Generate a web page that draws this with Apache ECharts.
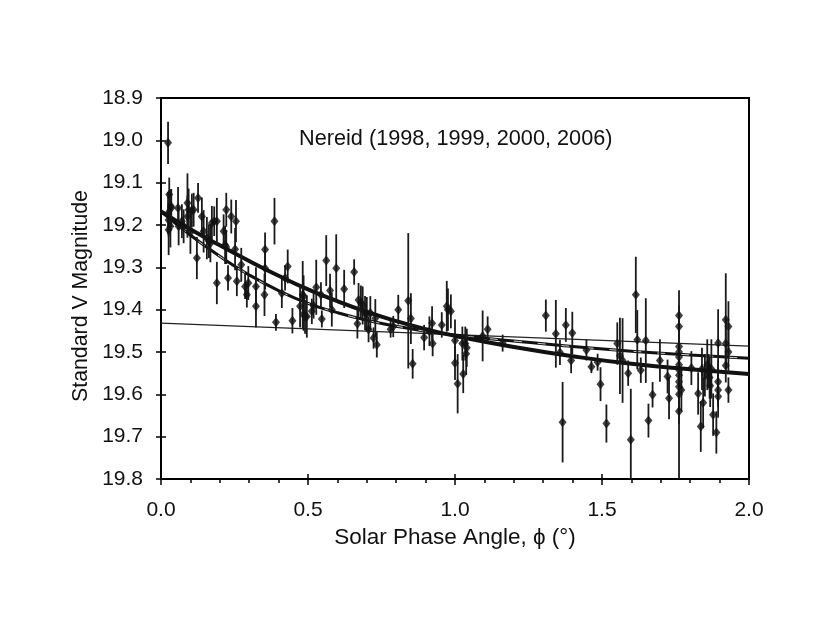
<!DOCTYPE html>
<html lang="en">
<head>
    <meta charset="UTF-8">
    <title>Nereid phase curve</title>
    <script src="https://cdn.jsdelivr.net/npm/echarts@6/dist/echarts.min.js"></script>
    <style>
        html, body { margin: 0; padding: 0; background: #fff; }
        #chart { width: 830px; height: 642px; }
    </style>
</head>
<body>
    <div id="chart"></div>
<script type="text/javascript">
    // observations: solar phase angle (deg), V magnitude, 1-sigma error
    var phase = [
        0.024, 0.028, 0.024, 0.035, 0.026, 0.032, 0.026, 0.034, 0.058, 0.060,
        0.071, 0.077, 0.090, 0.094, 0.090, 0.100, 0.105, 0.111, 0.126, 0.122,
        0.139, 0.145, 0.156, 0.163, 0.168, 0.173, 0.181, 0.190, 0.190, 0.213,
        0.222, 0.218, 0.222, 0.228, 0.239, 0.255, 0.252, 0.258, 0.273, 0.286,
        0.292, 0.297, 0.323, 0.323, 0.354, 0.354, 0.352, 0.386, 0.391, 0.411,
        0.422, 0.431, 0.447, 0.473, 0.485, 0.485, 0.496, 0.482, 0.490, 0.513,
        0.519, 0.528, 0.544, 0.547, 0.562, 0.575, 0.581, 0.596, 0.623, 0.657,
        0.672, 0.668, 0.680, 0.686, 0.694, 0.700, 0.706, 0.712, 0.723, 0.729,
        0.734, 0.781, 0.790, 0.807, 0.841, 0.850, 0.856, 0.895, 0.913, 0.922,
        0.924, 0.955, 0.972, 0.976, 0.986, 1.000, 1.000, 1.009, 1.025, 1.028,
        1.035, 1.040, 1.038, 1.094, 1.111, 1.162, 1.309, 1.343, 1.357, 1.366,
        1.377, 1.399, 1.395, 1.447, 1.464, 1.485, 1.495, 1.515, 1.552, 1.561,
        1.570, 1.589, 1.598, 1.615, 1.620, 1.632, 1.649, 1.658, 1.672, 1.697,
        1.723, 1.728, 1.762, 1.762, 1.762, 1.762, 1.762, 1.762, 1.762, 1.762,
        1.762, 1.762, 1.762, 1.762, 1.770, 1.804, 1.827, 1.836, 1.840, 1.844,
        1.850, 1.858, 1.862, 1.866, 1.868, 1.872, 1.878, 1.889, 1.895, 1.895,
        1.895, 1.895, 1.921, 1.930, 1.921, 1.930, 1.921, 1.930
    ];
    var magnitude = [
        19.006, 19.128, 19.172, 19.160, 19.188, 19.203, 19.211, 19.156, 19.160, 19.203,
        19.191, 19.203, 19.148, 19.164, 19.180, 19.218, 19.166, 19.164, 19.136, 19.278,
        19.180, 19.215, 19.231, 19.238, 19.243, 19.195, 19.191, 19.191, 19.337, 19.215,
        19.164, 19.247, 19.252, 19.325, 19.180, 19.191, 19.257, 19.333, 19.294, 19.345,
        19.365, 19.337, 19.392, 19.345, 19.258, 19.302, 19.365, 19.191, 19.430, 19.361,
        19.325, 19.298, 19.426, 19.392, 19.369, 19.410, 19.416, 19.365, 19.417, 19.404,
        19.391, 19.347, 19.365, 19.422, 19.284, 19.355, 19.400, 19.302, 19.351, 19.311,
        19.377, 19.433, 19.383, 19.390, 19.408, 19.410, 19.447, 19.408, 19.467, 19.420,
        19.483, 19.446, 19.440, 19.400, 19.379, 19.421, 19.528, 19.466, 19.451, 19.432,
        19.480, 19.436, 19.392, 19.400, 19.404, 19.473, 19.526, 19.575, 19.480, 19.552,
        19.480, 19.490, 19.504, 19.462, 19.446, 19.479, 19.414, 19.457, 19.501, 19.666,
        19.436, 19.455, 19.520, 19.495, 19.535, 19.524, 19.576, 19.669, 19.480, 19.509,
        19.520, 19.550, 19.707, 19.365, 19.471, 19.543, 19.473, 19.662, 19.601, 19.520,
        19.558, 19.609, 19.414, 19.440, 19.487, 19.500, 19.512, 19.530, 19.542, 19.555,
        19.570, 19.582, 19.600, 19.640, 19.590, 19.538, 19.598, 19.676, 19.540, 19.620,
        19.555, 19.530, 19.545, 19.560, 19.580, 19.540, 19.648, 19.690, 19.479, 19.570,
        19.590, 19.605, 19.424, 19.440, 19.480, 19.500, 19.532, 19.590
    ];
    var magError = [
        0.050, 0.040, 0.050, 0.045, 0.040, 0.050, 0.060, 0.040, 0.050, 0.045,
        0.040, 0.040, 0.070, 0.050, 0.050, 0.050, 0.040, 0.040, 0.035, 0.050,
        0.045, 0.050, 0.050, 0.040, 0.045, 0.040, 0.035, 0.055, 0.050, 0.040,
        0.040, 0.045, 0.040, 0.030, 0.040, 0.050, 0.050, 0.035, 0.040, 0.030,
        0.030, 0.040, 0.050, 0.045, 0.040, 0.050, 0.050, 0.055, 0.020, 0.035,
        0.030, 0.040, 0.030, 0.050, 0.050, 0.040, 0.050, 0.080, 0.040, 0.030,
        0.030, 0.065, 0.030, 0.020, 0.060, 0.040, 0.040, 0.080, 0.045, 0.030,
        0.040, 0.035, 0.040, 0.045, 0.040, 0.040, 0.030, 0.040, 0.025, 0.045,
        0.030, 0.020, 0.025, 0.035, 0.160, 0.060, 0.035, 0.030, 0.035, 0.040,
        0.030, 0.030, 0.060, 0.050, 0.040, 0.050, 0.040, 0.070, 0.040, 0.045,
        0.040, 0.045, 0.050, 0.060, 0.030, 0.020, 0.038, 0.080, 0.030, 0.095,
        0.040, 0.050, 0.030, 0.025, 0.015, 0.020, 0.040, 0.045, 0.050, 0.090,
        0.100, 0.030, 0.120, 0.090, 0.070, 0.030, 0.100, 0.040, 0.030, 0.050,
        0.040, 0.050, 0.060, 0.050, 0.060, 0.050, 0.060, 0.050, 0.080, 0.060,
        0.100, 0.080, 0.070, 0.160, 0.050, 0.040, 0.050, 0.060, 0.050, 0.060,
        0.050, 0.060, 0.040, 0.050, 0.050, 0.070, 0.050, 0.050, 0.080, 0.050,
        0.040, 0.050, 0.110, 0.060, 0.060, 0.050, 0.040, 0.030
    ];

    // fitted phase curves, sampled off the figure
    var curvePhase = [0.0, 0.1, 0.2, 0.3, 0.4, 0.5, 0.6, 0.7, 0.8, 0.9, 1.0, 1.2, 1.4, 1.6, 1.8, 2.0];
    var thickFit = [19.168, 19.210, 19.248, 19.285, 19.320, 19.352, 19.380, 19.405, 19.427, 19.446, 19.462, 19.488, 19.510, 19.528, 19.541, 19.552];
    var surgeFit = [19.168, 19.224, 19.274, 19.318, 19.355, 19.385, 19.407, 19.425, 19.439, 19.451, 19.460, 19.474, 19.487, 19.498, 19.507, 19.515];
    var linePhase = [0.0, 2.0];
    var linearFit = [19.432, 19.486];

    var yTicks = ['18.9', '19.0', '19.1', '19.2', '19.3', '19.4', '19.5', '19.6', '19.7', '19.8'];
    var xTicks = ['0.0', '0.5', '1.0', '1.5', '2.0'];

    var font = '"Liberation Sans", Arial, Helvetica, sans-serif';

    var points = [];
    for (var i = 0; i < phase.length; i++) {
        points.push([phase[i], magnitude[i], magError[i]]);
    }
    function pairs(xs, ys) {
        var out = [];
        for (var k = 0; k < xs.length; k++) out.push([xs[k], ys[k]]);
        return out;
    }

    var dom = document.getElementById('chart');
    var myChart = echarts.init(dom, null, { renderer: 'canvas' });

    var option = {
        animation: false,
        backgroundColor: '#fff',
        title: {
            text: 'Nereid (1998, 1999, 2000, 2006)',
            left: 299,
            top: 128,
            padding: 0,
            textStyle: { fontFamily: font, fontSize: 21.7, fontWeight: 'normal', color: '#111' }
        },
        grid: {
            left: 161, top: 98, right: 81, bottom: 163,
            show: true, borderColor: '#000', borderWidth: 2, backgroundColor: 'transparent'
        },
        xAxis: [
            {
                type: 'value', min: 0, max: 2, interval: 0.5,
                name: 'Solar Phase Angle, \u03d5 (\u00b0)',
                nameLocation: 'middle', nameGap: 42,
                nameTextStyle: { fontFamily: font, fontSize: 22.5, color: '#111' },
                axisLine: { show: true, lineStyle: { color: '#000', width: 2 } },
                axisTick: { show: true, inside: false, length: 6, lineStyle: { color: '#000', width: 1.5 } },
                minorTick: { show: true, splitNumber: 5, length: 4, lineStyle: { color: '#000', width: 1.5 } },
                splitLine: { show: false },
                minorSplitLine: { show: false },
                axisLabel: {
                    fontFamily: font, fontSize: 21, color: '#111', margin: 21,
                    formatter: function (v) { return xTicks[Math.round(v / 0.5)]; }
                }
            },
            {
                type: 'value', min: 0, max: 2, interval: 0.5, position: 'bottom',
                axisLine: { show: false },
                axisTick: { show: true, inside: true, length: 5, lineStyle: { color: '#000', width: 1.5 } },
                axisLabel: { show: false },
                splitLine: { show: false }
            }
        ],
        yAxis: [
            {
                type: 'value', inverse: true, min: 18.9, max: 19.8, interval: 0.1,
                name: 'Standard V Magnitude',
                nameLocation: 'middle', nameGap: 65,
                nameTextStyle: { fontFamily: font, fontSize: 21.3, color: '#111', padding: [0, 15, 0, 0] },
                axisLine: { show: true, lineStyle: { color: '#000', width: 2 } },
                axisTick: { show: true, inside: false, length: 5, lineStyle: { color: '#000', width: 1.5 } },
                splitLine: { show: false },
                axisLabel: {
                    fontFamily: font, fontSize: 21, color: '#111', margin: 18,
                    formatter: function (v) { return yTicks[Math.round((v - 18.9) / 0.1)]; }
                }
            },
            {
                type: 'value', inverse: true, min: 18.9, max: 19.8, interval: 0.1, position: 'left',
                axisLine: { show: false },
                axisTick: { show: true, inside: true, length: 5, lineStyle: { color: '#000', width: 1.5 } },
                axisLabel: { show: false },
                splitLine: { show: false }
            }
        ],
        series: [
            {
                name: 'linear',
                type: 'line',
                data: pairs(linePhase, linearFit),
                showSymbol: false,
                lineStyle: { color: '#222', width: 1.3 },
                z: 2
            },
            {
                name: 'surge',
                type: 'line',
                data: pairs(curvePhase, surgeFit),
                smooth: true,
                showSymbol: false,
                lineStyle: { color: '#111', width: 3 },
                z: 2
            },
            {
                name: 'surge-dash',
                type: 'line',
                data: pairs(curvePhase, surgeFit),
                smooth: true,
                showSymbol: false,
                lineStyle: { color: '#fff', width: 0.8, type: [8, 16] },
                z: 2
            },
            {
                name: 'fit',
                type: 'line',
                data: pairs(curvePhase, thickFit),
                smooth: true,
                showSymbol: false,
                lineStyle: { color: '#111', width: 4 },
                z: 2
            },
            {
                name: 'errors',
                type: 'custom',
                clip: true,
                data: points,
                renderItem: function (params, api) {
                    var x = api.value(0), y = api.value(1), e = api.value(2);
                    var top = api.coord([x, y - e]);
                    var bot = api.coord([x, y + e]);
                    return {
                        type: 'line',
                        shape: { x1: top[0], y1: top[1], x2: bot[0], y2: bot[1] },
                        style: { stroke: '#1a1a1a', lineWidth: 1.8 }
                    };
                },
                z: 3
            },
            {
                name: 'Nereid',
                type: 'scatter',
                data: points,
                symbol: 'diamond',
                symbolSize: [8, 10],
                itemStyle: { color: '#111' },
                z: 4
            }
        ]
    };

    if (option && typeof option === 'object') {
        myChart.setOption(option);
    }
</script>
</body>
</html>
